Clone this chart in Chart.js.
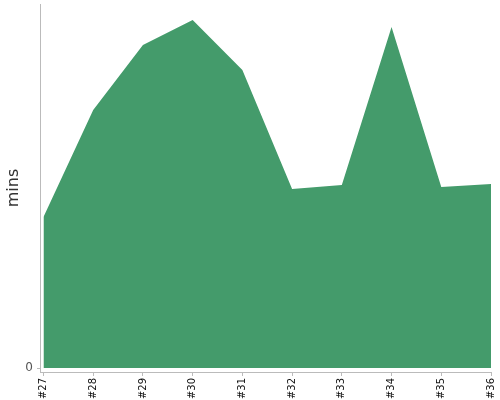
<!DOCTYPE html>
<html>
<head>
<meta charset="utf-8">
<script src="https://cdn.jsdelivr.net/npm/chart.js@4"></script>
<style>
  html, body { margin: 0; padding: 0; background: #fff; }
  #wrap { width: 500px; height: 400px; }
</style>
</head>
<body>
<div id="wrap"><canvas id="runChart"></canvas></div>
<script>
const builds = ["#27", "#28", "#29", "#30", "#31", "#32", "#33", "#34", "#35", "#36"];
const mins = [15.1, 25.8, 32.3, 34.8, 29.8, 17.9, 18.3, 34.1, 18.1, 18.4];
const yTicks = [0];

const points = mins.map((v, i) => ({ x: i, y: v }));

new Chart(document.getElementById("runChart").getContext("2d"), {
  type: "line",
  data: {
    datasets: [
      {
        data: points,
        fill: "origin",
        backgroundColor: "#449b6b",
        borderWidth: 0,
        pointRadius: 0,
        tension: 0,
      },
    ],
  },
  options: {
    responsive: true,
    maintainAspectRatio: false,
    animation: false,
    layout: { padding: { top: 4, right: 9, left: 0, bottom: 0 } },
    plugins: { legend: { display: false }, tooltip: { enabled: false } },
    scales: {
      x: {
        type: "linear",
        min: -0.07,
        max: builds.length - 1,
        afterBuildTicks: (scale) => {
          scale.ticks = builds.map((b, i) => ({ value: i }));
        },
        afterFit: (scale) => {
          scale.height = 28;
          scale.paddingLeft = 0;
          scale.paddingRight = 0;
        },
        border: { color: "#bbb" },
        grid: { drawOnChartArea: false, tickLength: 4, color: "#bbb" },
        ticks: {
          minRotation: 90,
          maxRotation: 90,
          padding: 2,
          color: "#111",
          font: { family: "DejaVu Sans", size: 10 },
          callback: (v) => builds[v],
        },
      },
      y: {
        min: -0.4,
        max: 36.4,
        afterBuildTicks: (scale) => {
          scale.ticks = yTicks.map((v) => ({ value: v }));
        },
        afterFit: (scale) => {
          scale.width = 40;
          scale.paddingTop = 0;
          scale.paddingBottom = 0;
        },
        border: { color: "#bbb" },
        grid: { drawOnChartArea: false, tickLength: 3, color: "#bbb" },
        ticks: {
          padding: 4,
          color: "#555",
          font: { family: "DejaVu Sans", size: 12 },
        },
        title: {
          display: true,
          text: "mins",
          color: "#333",
          padding: { top: 4, bottom: 0 },
          font: { family: "DejaVu Sans", size: 16 },
        },
      },
    },
  },
});
</script>
</body>
</html>
